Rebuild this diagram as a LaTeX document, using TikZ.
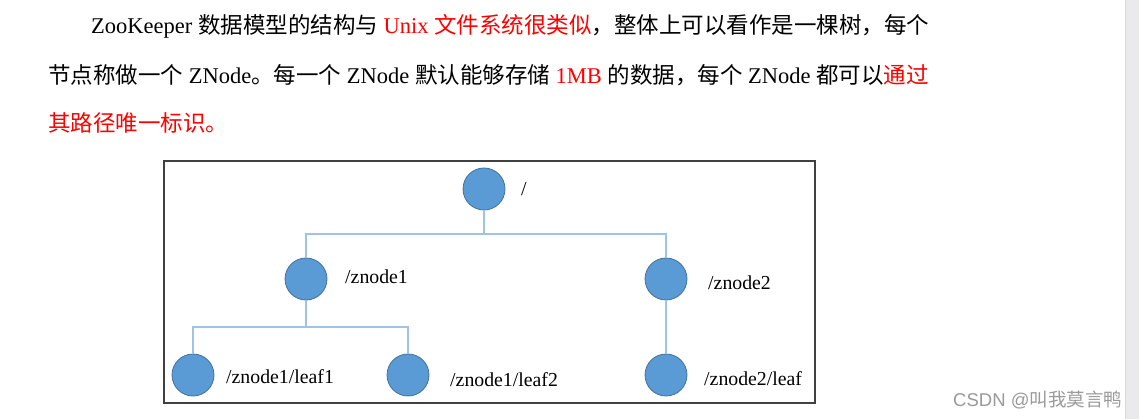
\documentclass[tikz,border=0pt]{standalone}
\usepackage{fontspec}
\setmainfont{Liberation Serif}
\newfontfamily\cjk{Noto Sans CJK SC}
\newfontfamily\wmsans{Liberation Sans}
\definecolor{hired}{HTML}{FF0000}
\definecolor{nodefill}{HTML}{5B9BD5}
\definecolor{nodeline}{HTML}{41719C}
\definecolor{connline}{HTML}{9DC3E6}
\definecolor{framecol}{HTML}{404040}
\definecolor{wmgray}{HTML}{9A9A9A}
\definecolor{stripcol}{HTML}{EAEAEC}
\tikzset{
  para/.style={anchor=base west, inner sep=0pt, font=\fontsize{22.5}{27}\selectfont},
  znode/.style={circle, fill=nodefill, draw=nodeline, line width=0.8pt, minimum size=42pt, inner sep=0pt},
  zlabel/.style={anchor=base west, inner sep=0pt, font=\fontsize{19.8}{24}\selectfont},
  conn/.style={draw=connline, line width=1.1pt},
  frame/.style={draw=framecol, line width=1.1pt},
  watermark/.style={anchor=base west, inner sep=0pt, text=wmgray, font=\wmsans\fontsize{18.5}{22}\selectfont}
}
\begin{document}
\begin{tikzpicture}[x=1pt,y=-1pt]
\useasboundingbox (0,0) rectangle (1139,419);
\fill[white] (0,0) rectangle (1139,419);
\fill[stripcol] (1125,0) rectangle (1139,419);
\draw[draw=black!15, line width=0.6pt] (1125,0) -- (1125,419);

% paragraph
\node[para] (l1) at (91,33.5) {ZooKeeper {\cjk 数据模型的结构与} \textcolor{hired}{Unix {\cjk 文件系统很类似}}{\cjk ，整体上可以看作是一棵树，每个}};
\node[para] (l2) at (48,83.5) {{\cjk 节点称做一个} ZNode{\cjk 。每一个} ZNode {\cjk 默认能够存储} \textcolor{hired}{1MB} {\cjk 的数据，每个} ZNode {\cjk 都可以}\textcolor{hired}{\cjk 通过}};
\node[para] (l3) at (48,132) {\textcolor{hired}{\cjk 其路径唯一标识。}};

% frame
\draw[frame] (164,161) rectangle (815,403);

% tree nodes
\node[znode] (root) at (484,189) {};
\node[znode] (n1) at (306,279) {};
\node[znode] (n2) at (666,279) {};
\node[znode] (f1) at (193,375) {};
\node[znode] (f2) at (408,375) {};
\node[znode] (f3) at (666,375) {};

\coordinate (j1) at (484,234);
\coordinate (j2) at (306,327);

\draw[conn] (root.south) -- (j1);
\draw[conn] (n1.north) |- (j1) -| (n2.north);
\draw[conn] (n1.south) -- (j2);
\draw[conn] (f1.north) |- (j2) -| (f2.north);
\draw[conn] (n2.south) -- (f3.north);

% labels
\node[zlabel] (lroot) at (521,195.5) {/};
\node[zlabel] (ln1) at (345,283.5) {/znode1};
\node[zlabel] (ln2) at (708,290) {/znode2};
\node[zlabel] (lf1) at (226,383) {/znode1/leaf1};
\node[zlabel] (lf2) at (450,386) {/znode1/leaf2};
\node[zlabel] (lf3) at (704,385) {/znode2/leaf};

% watermark
\node[watermark] (wm) at (953,406.5) {CSDN @{\cjk 叫我莫言鸭}};
\end{tikzpicture}
\end{document}
